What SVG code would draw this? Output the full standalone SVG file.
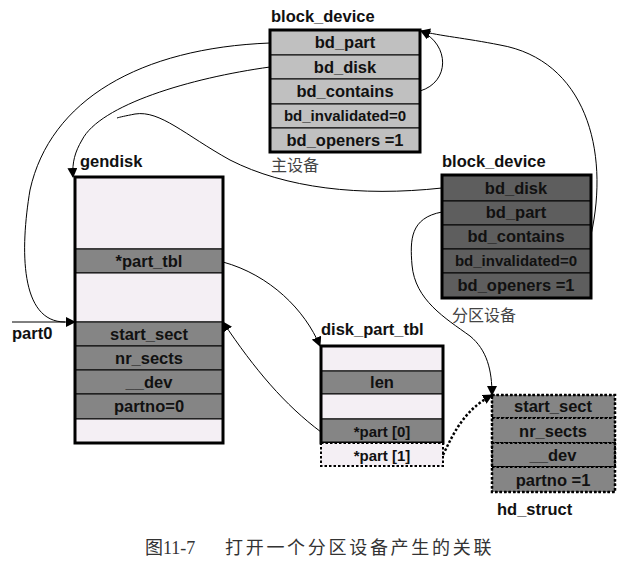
<svg xmlns="http://www.w3.org/2000/svg" width="632" height="583" viewBox="0 0 632 583">
<defs>
<marker id="ah" viewBox="0 0 10 10" refX="9" refY="5" markerWidth="10" markerHeight="10" markerUnits="userSpaceOnUse" orient="auto">
<path d="M0,0 L10,5 L0,10 z" fill="#000"/>
</marker>
</defs>
<style>
.lbl{font-family:"Liberation Sans",Arial,sans-serif;font-weight:bold;font-size:16.5px;fill:#111}
.cell{font-family:"Liberation Sans",Arial,sans-serif;font-weight:bold;font-size:16.5px;fill:#111;text-anchor:middle}
.sm{font-size:15px}
.cn{font-family:"Noto Sans CJK SC",sans-serif;font-size:16px;fill:#444}
.lt{fill:#c0c0c0;stroke:#000;stroke-width:1}
.dk{fill:#5e5e5e;stroke:#000;stroke-width:1}
.gr{fill:#858585;stroke:#000;stroke-width:1}
.pk{fill:#f4eff4;stroke:#000;stroke-width:1}
.frame{fill:none;stroke:#000;stroke-width:3}
.dot{stroke:#000;stroke-width:2;stroke-dasharray:2.5,2}
.con{fill:none;stroke:#000;stroke-width:1}
.cap{font-family:"Liberation Serif","Noto Sans CJK SC",serif;font-size:18px;fill:#333}
</style>

<g id="bdev_main">
<text class="lbl" x="271" y="22">block_device</text>
<rect class="lt" x="270" y="30" width="150" height="25"/>
<rect class="lt" x="270" y="55" width="150" height="24"/>
<rect class="lt" x="270" y="79" width="150" height="25"/>
<rect class="lt" x="270" y="104" width="150" height="24"/>
<rect class="lt" x="270" y="128" width="150" height="24"/>
<rect class="frame" x="270" y="30" width="150" height="122"/>
<text class="cell" x="345" y="48">bd_part</text>
<text class="cell" x="345" y="73">bd_disk</text>
<text class="cell" x="345" y="97">bd_contains</text>
<text class="cell sm" x="345" y="121">bd_invalidated=0</text>
<text class="cell" x="345" y="146">bd_openers =1</text>
<text class="cn" x="271" y="171">主设备</text>
</g>

<g id="bdev_part">
<text class="lbl" x="442" y="167">block_device</text>
<rect class="dk" x="442" y="175" width="149" height="26"/>
<rect class="dk" x="442" y="201" width="149" height="24"/>
<rect class="dk" x="442" y="225" width="149" height="24"/>
<rect class="dk" x="442" y="249" width="149" height="24"/>
<rect class="dk" x="442" y="273" width="149" height="25"/>
<rect class="frame" x="442" y="175" width="149" height="123"/>
<text class="cell" x="516" y="194">bd_disk</text>
<text class="cell" x="516" y="218">bd_part</text>
<text class="cell" x="516" y="242">bd_contains</text>
<text class="cell sm" x="516" y="266">bd_invalidated=0</text>
<text class="cell" x="516" y="291">bd_openers =1</text>
<text class="cn" x="452" y="321">分区设备</text>
</g>

<g id="gendisk">
<text class="lbl" x="80" y="167">gendisk</text>
<rect class="pk" x="75" y="177" width="148" height="72"/>
<rect class="gr" x="75" y="249" width="148" height="24"/>
<rect class="pk" x="75" y="273" width="148" height="49"/>
<rect class="gr" x="75" y="322" width="148" height="24"/>
<rect class="gr" x="75" y="346" width="148" height="24"/>
<rect class="gr" x="75" y="370" width="148" height="24"/>
<rect class="gr" x="75" y="394" width="148" height="25"/>
<rect class="pk" x="75" y="419" width="148" height="24"/>
<rect class="frame" x="75" y="177" width="148" height="266"/>
<text class="cell" x="149" y="267">*part_tbl</text>
<text class="cell" x="149" y="340">start_sect</text>
<text class="cell" x="149" y="364">nr_sects</text>
<text class="cell" x="149" y="388">__dev</text>
<text class="cell" x="149" y="412">partno=0</text>
<text class="lbl" x="12" y="339">part0</text>
</g>

<g id="disk_part_tbl">
<text class="lbl" x="321" y="335">disk_part_tbl</text>
<rect class="pk" x="321" y="346" width="122" height="25"/>
<rect class="gr" x="321" y="371" width="122" height="23"/>
<rect class="pk" x="321" y="394" width="122" height="25"/>
<rect class="gr" x="321" y="419" width="122" height="24"/>
<rect class="frame" x="321" y="346" width="122" height="97"/>
<rect class="pk dot" x="321" y="443" width="122" height="23" stroke-width="2.5"/>
<text class="cell" x="382" y="388">len</text>
<text class="cell sm" x="382" y="437">*part [0]</text>
<text class="cell sm" x="382" y="461">*part [1]</text>
</g>

<g id="hd_struct">
<rect class="gr dot" x="492" y="395" width="123" height="23"/>
<rect class="gr dot" x="492" y="418" width="123" height="25"/>
<rect class="gr dot" x="492" y="443" width="123" height="24"/>
<rect class="gr dot" x="492" y="467" width="123" height="25"/>
<rect x="492" y="395" width="123" height="97" fill="none" stroke="#000" stroke-width="2.5" stroke-dasharray="2.5,2"/>
<text class="cell" x="553" y="412">start_sect</text>
<text class="cell" x="553" y="437">nr_sects</text>
<text class="cell" x="553" y="461">__dev</text>
<text class="cell" x="553" y="486">partno =1</text>
<text class="lbl" x="497" y="515">hd_struct</text>
</g>

<g id="connectors">
<path class="con" d="M12,322 L75,322" marker-end="url(#ah)"/>
<path class="con" d="M270,43 C140,48 50,100 30,190 C20,250 20,322 65,322"/>
<path class="con" d="M270,67 C190,78 100,105 82,140 C75,152 72,162 73,177" marker-end="url(#ah)"/>
<path class="con" d="M442,188 C360,197 285,188 230,160 C185,135 160,110 135,114 C125,116 120,117 117,118"/>
<path class="con" d="M442,212 C410,218 410,240 412,265 C415,300 445,318 470,336 C487,350 492,370 492,395" marker-end="url(#ah)"/>
<path class="con" d="M591,235 C610,150 585,60 500,45 C465,38 440,36 421,31" marker-end="url(#ah)"/>
<path class="con" d="M420,91 C450,82 450,45 421,31" marker-end="url(#ah)"/>
<path class="con" d="M223,262 C270,275 305,310 320,346" marker-end="url(#ah)"/>
<path class="con" d="M321,432 C285,405 255,370 223,322" marker-end="url(#ah)"/>
<path d="M443,455 C455,430 465,410 492,395" fill="none" stroke="#000" stroke-width="2.5" stroke-dasharray="2.5,2" marker-end="url(#ah)"/>
</g>

<g id="caption">
<text class="cap" x="145" y="554">图11-7</text>
<text class="cap" x="225" y="554" style="letter-spacing:2.7px">打开一个分区设备产生的关联</text>
</g>
</svg>
